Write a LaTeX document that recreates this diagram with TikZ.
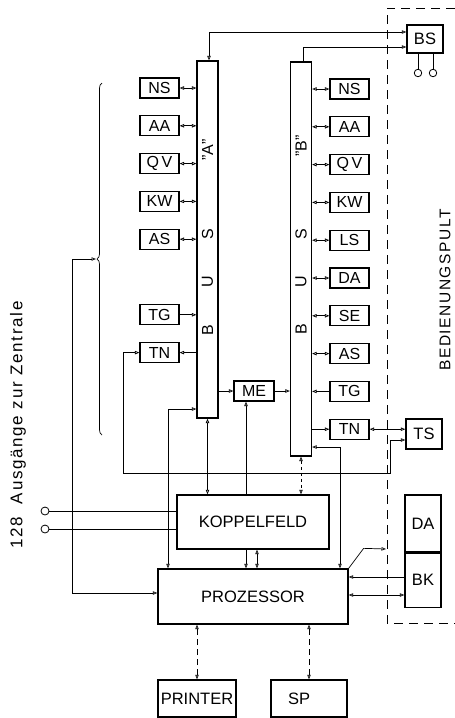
\documentclass[tikz,border=0pt]{standalone}
\usepackage{fontspec}
\setmainfont{Liberation Sans}
\newfontfamily\widefont[LetterSpace=10]{Liberation Sans}
\usetikzlibrary{arrows.meta,positioning,decorations.pathreplacing}

\begin{document}
\begin{tikzpicture}[
  x=1pt, y=-1pt,
  node distance=37.8pt,
  line width=0.7pt,
  >={Triangle[open,length=4.5pt,width=3.4pt]},
  box/.style={
    draw,
    line width=1.2pt,
    minimum width=39pt,
    minimum height=20pt,
    inner sep=0pt,
    font=\fontsize{16}{16}\selectfont
  },
  bus/.style={draw, line width=1.2pt, minimum width=21pt, inner sep=0pt},
  buslbl/.style={rotate=90, inner sep=0pt, font=\fontsize{16}{16}\selectfont},
  block/.style={draw, line width=1.3pt, inner sep=0pt, font=\fontsize{16.5}{16.5}\selectfont},
  port/.style={circle, draw, line width=0.8pt, minimum size=7.5pt, inner sep=0pt},
  pult/.style={dash pattern=on 9pt off 6pt, line width=0.9pt}
]
\useasboundingbox (0,0) rectangle (455,718);

% the two buses
\node[bus, minimum height=357pt] (busA) at (207.5,239.5) {};
\node[bus, minimum height=394pt] (busB) at (301,259) {};
\node[buslbl] (aB) at (207.5,330) {B};
\node[buslbl] (aU) at (207.5,282) {U};
\node[buslbl] (aS) at (207.5,234) {S};
\node[buslbl] (aQ) at (207.5,150) {"A"};
\node[buslbl] (bB) at (301,329) {B};
\node[buslbl] (bU) at (301,282) {U};
\node[buslbl] (bS) at (301,234) {S};
\node[buslbl] (bQ) at (301,146) {"B"};

% units on bus A
\node[box] (aNS) at (159.5,88) {NS};
\node[box, below of=aNS] (aAA) {AA};
\node[box, below of=aAA] (aQV) {Q\,V};
\node[box, below of=aQV] (aKW) {KW};
\node[box, below of=aKW] (aAS) {AS};
\node[box, below of=aAS, node distance=75.6pt] (aTG) {TG};
\node[box, below of=aTG] (aTN) {TN};

% units on bus B
\node[box] (bNS) at (349.5,89) {NS};
\node[box, below of=bNS] (bAA) {AA};
\node[box, below of=bAA] (bQV) {Q\,V};
\node[box, below of=bQV] (bKW) {KW};
\node[box, below of=bKW] (bLS) {LS};
\node[box, below of=bLS] (bDA) {DA};
\node[box, below of=bDA] (bSE) {SE};
\node[box, below of=bSE] (bAS) {AS};
\node[box, below of=bAS] (bTG) {TG};
\node[box, below of=bTG] (bTN) {TN};

\node[box, minimum width=40pt] (me) at (254,391) {ME};

% central blocks
\node[block, minimum width=152pt, minimum height=54pt] (kf) at (253,522) {KOPPELFELD};
\node[block, minimum height=55pt, text width=150pt, inner xsep=20pt, align=center] (proz) at (253,596.5) {PROZESSOR\hspace*{14pt}};
\node[block, minimum width=78pt, minimum height=37pt] (printer) at (197,698.5) {PRINTER};
\node[block, minimum height=37pt, text width=42pt, inner xsep=17pt, align=left] (sp) at (309,698.5) {SP};

% operator desk
\node[block, minimum width=36pt, minimum height=28pt] (bs) at (425,39) {BS};
\node[block, minimum width=36pt, minimum height=30pt] (ts) at (424,434) {TS};
\node[block, minimum width=36pt, minimum height=57pt] (da) at (423,523.5) {DA};
\node[block, minimum width=36pt, minimum height=54pt, below=0pt of da] (bk) {BK};
\node[port] (bs1) at (418,73) {};
\node[port] (bs2) at (433,73) {};
\draw[pult] (455,8) -- (387,8) -- (387,623) -- (455,623);
\node[rotate=90, inner sep=0pt, font=\widefont\fontsize{15.5}{15.5}\selectfont] (pulttext) at (445,290) {BEDIENUNGSPULT};

% lines to the exchange
\node[port, minimum size=8pt] (in1) at (45,511) {};
\node[port, minimum size=8pt] (in2) at (45,529) {};
\node[rotate=90, font=\widefont\fontsize{17}{17}\selectfont] (zentrale) at (18,425) {128\ \ Ausgänge zur Zentrale};
\draw[decorate, decoration={brace, amplitude=5pt}] (102,435) -- (102,83);
\coordinate (tip) at (96,259);

% bus A connections
\draw[<->] (aNS) -- (aNS -| busA.west);
\draw[<->] (aAA) -- (aAA -| busA.west);
\draw[<->] (aQV) -- (aQV -| busA.west);
\draw[<->] (aKW) -- (aKW -| busA.west);
\draw[<->] (aAS) -- (aAS -| busA.west);
\draw[->] (aTG) -- (aTG -| busA.west);
\draw[<-] (aTN) -- (aTN -| busA.west);

% bus B connections
\draw[<->] (bNS -| busB.east) -- (bNS);
\draw[<->] (bAA -| busB.east) -- (bAA);
\draw[<->] (bQV -| busB.east) -- (bQV);
\draw[<->] (bKW -| busB.east) -- (bKW);
\draw[<->] (bLS -| busB.east) -- (bLS);
\draw[<->] (bDA -| busB.east) -- (bDA);
\draw[<->] (bSE -| busB.east) -- (bSE);
\draw[<->] (bAS -| busB.east) -- (bAS);
\draw[<-] (bTG -| busB.east) -- (bTG);
\draw[->] (bTN -| busB.east) -- (bTN);
\draw[<->] (bTN) -- (bTN -| ts.west);

\draw[<->] ([yshift=7pt]bs.west) -| ([xshift=1.5pt]busA.north);
\draw[->] ([xshift=2pt]busB.north) |- ([yshift=-8pt]bs.west);
\draw (bs1) -- (bs1 |- bs.south);
\draw (bs2) -- (bs2 |- bs.south);

\draw[->] (busA.east |- me) -- (me);
\draw[->] (me) -- (me -| busB.west);
\draw[->] (kf.north -| 246,0) -- (me.south -| 246,0);

\draw[<->] ([yshift=-6pt]ts.west) -- ++(-15,0) |- (123,473) |- (aTN.west);
\draw[<->] (tip) -- (72,259) |- (proz.west |- 0,593);
\draw[<->] (busA.west |- 0,409) -| (proz.north -| 168,0);
\draw[<->] (busB.east |- 0,447) -| (proz.north -| 340,0);

\draw[<->] (busA.south) -- (busA.south |- kf.north);
\draw[<->, dashed] (busB.south) -- (busB.south |- kf.north);
\draw (in1) -- (in1 -| kf.west);
\draw (in2) -- (in2 -| kf.west);
\draw[->] (kf.south -| 246,0) -- (proz.north -| 246,0);
\draw[<->] (proz.north -| 257,0) -- (kf.south -| 257,0);

\draw[<->, dash pattern=on 6pt off 4pt] (printer.north) -- (printer.north |- proz.south);
\draw[<->, dash pattern=on 6pt off 4pt] (sp.north) -- (sp.north |- proz.south);

\coordinate (out) at (386,549);
\draw[->] (proz.north east) -- ++(15,-20) -- (out);
\draw[->] (bk.west |- 0,577) -- (proz.east |- 0,577);
\draw[<->] (proz.east |- 0,595) -- (bk.west |- 0,595);
\end{tikzpicture}
\end{document}
